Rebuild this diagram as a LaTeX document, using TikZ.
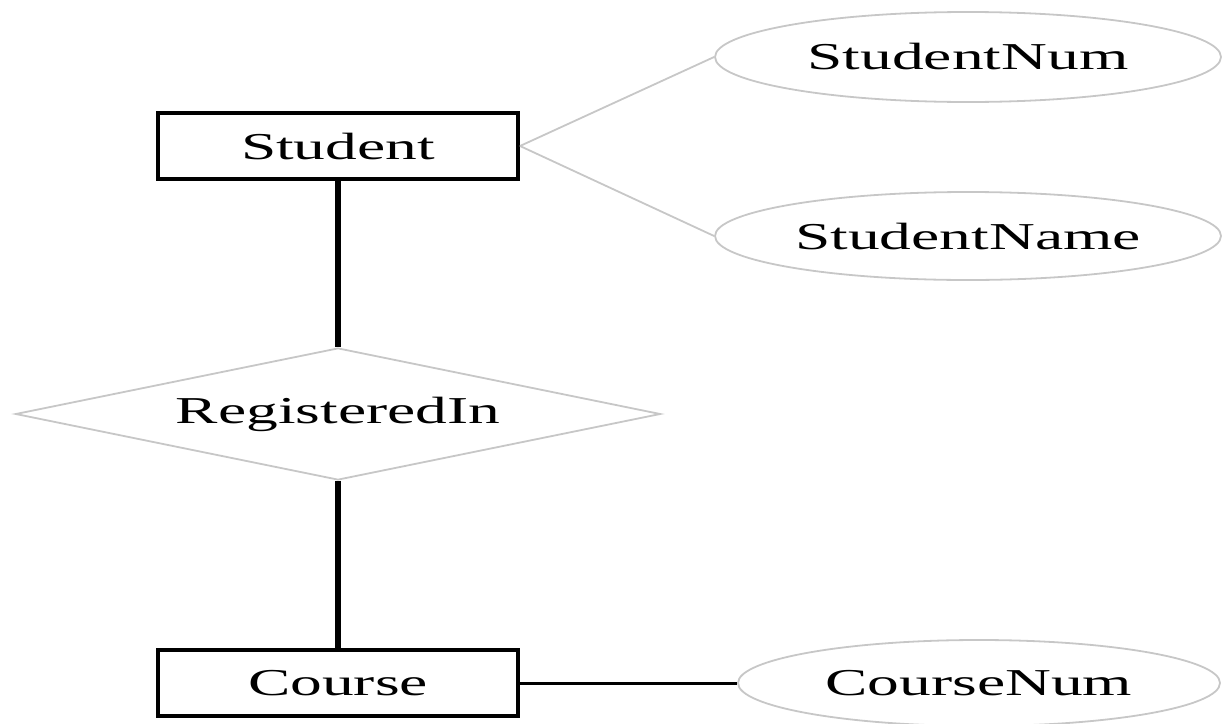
\documentclass[tikz,border=0pt]{standalone}
\usepackage{fontspec}
\newfontfamily\erfont{Liberation Serif}[FakeStretch=1.67]
\usetikzlibrary{shapes.geometric}
\definecolor{attrgray}{gray}{0.78}
\tikzset{
  entity/.style={draw=black, line width=4pt, rectangle, minimum width=360pt, minimum height=66pt, inner sep=0pt},
  attr/.style={draw=attrgray, line width=1.8pt, ellipse, inner sep=0pt},
  relation/.style={draw=attrgray, line width=1.8pt, diamond, aspect=4.9, minimum width=645pt, minimum height=132pt, inner sep=0pt},
  heavy/.style={draw=black, line width=5.5pt},
  link/.style={draw=black, line width=3pt},
  faint/.style={draw=attrgray, line width=1.8pt},
  every node/.style={font=\erfont\fontsize{38}{40}\selectfont}
}
\begin{document}
\begin{tikzpicture}[x=1pt,y=-1pt]
  \useasboundingbox (0,0) rectangle (1226,723);
  % entities
  \node[entity] (student) at (338,146) {Student};
  \node[entity] (course) at (338,683) {Course};
  % relationship
  \node[relation] (reg) at (338,414) {RegisteredIn};
  % attributes
  \node[attr, minimum width=506pt, minimum height=90pt] (snum) at (968,57) {StudentNum};
  \node[attr, minimum width=506pt, minimum height=88pt] (sname) at (968,236) {StudentName};
  \node[attr, minimum width=482pt, minimum height=86pt] (cnum) at (979,683) {CourseNum};
  % connectors
  \draw[heavy] (student.south) -- (reg.north);
  \draw[heavy] (reg.south) -- (course.north);
  \draw[link] (course.east) -- (cnum.west);
  \draw[faint] (student.east) -- (snum.west);
  \draw[faint] (student.east) -- (sname.west);
\end{tikzpicture}
\end{document}
